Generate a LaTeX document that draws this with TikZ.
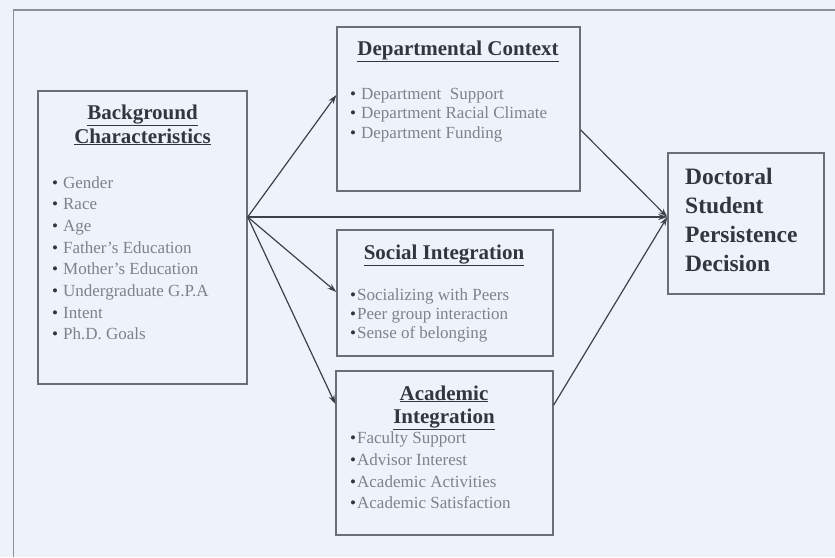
\documentclass[tikz,border=0pt]{standalone}
\usepackage{fontspec}
\setmainfont{Liberation Serif}
\usetikzlibrary{arrows.meta}
\definecolor{bgc}{HTML}{EEF2F9}
\definecolor{framec}{HTML}{8A8F98}
\definecolor{boxc}{HTML}{6A6F77}
\definecolor{titlec}{HTML}{33363D}
\definecolor{itemc}{HTML}{7E828A}
\definecolor{linec}{HTML}{3E4148}
\newcommand\bul{\textcolor{titlec}{•}\hskip 5pt}
\newcommand\bultight{\textcolor{titlec}{•}\hskip 1pt}
\begin{document}
\begin{tikzpicture}[x=1pt,y=-1pt,
 box/.style={draw=boxc, line width=1.4pt, inner sep=0pt},
 ttl/.style={anchor=base, font=\fontsize{21}{24}\selectfont\bfseries, text=titlec, inner sep=0pt},
 itm/.style={anchor=base west, font=\fontsize{17}{20}\selectfont, text=itemc, inner sep=0pt},
 doctxt/.style={anchor=base west, font=\fontsize{23.5}{29}\selectfont\bfseries, text=titlec, inner sep=0pt},
 conn/.style={draw=linec, line width=1.2pt, -{Stealth[length=9pt,width=6pt]}},
]
\fill[bgc] (0,0) rectangle (835,557);
\useasboundingbox (0,0) rectangle (835,557);
\draw[framec, line width=1.5pt] (835,10) -- (13.5,10) -- (13.5,557);

% boxes
\node[box, minimum width=209pt, minimum height=293pt] (bg) at (142.5,237.5) {};
\node[box, minimum width=243pt, minimum height=164pt] (dept) at (458.5,109) {};
\node[box, minimum width=216pt, minimum height=126pt] (soc) at (445,293) {};
\node[box, minimum width=217pt, minimum height=164pt] (acad) at (444.5,453) {};
\node[box, minimum width=156pt, minimum height=141pt] (docb) at (746,223.5) {};

% background
\node[ttl] (bgt1) at (142.5,119) {\underline{Background}};
\node[ttl] (bgt2) at (142.5,143) {\underline{Characteristics}};
\node[itm] (bg1) at (52,188) {\bul Gender};
\node[itm] (bg2) at (52,209.7) {\bul Race};
\node[itm] (bg3) at (52,231.4) {\bul Age};
\node[itm] (bg4) at (52,253.1) {\bul Father's Education};
\node[itm] (bg5) at (52,274.8) {\bul Mother's Education};
\node[itm] (bg6) at (52,296.5) {\bul Undergraduate G.P.A};
\node[itm] (bg7) at (52,318.2) {\bul Intent};
\node[itm] (bg8) at (52,339.9) {\bul Ph.D. Goals};

% departmental
\node[ttl] (dt) at (458,55) {\underline{Departmental Context}};
\node[itm] (d1) at (350,99) {\bul Department\ \ Support};
\node[itm] (d2) at (350,118.5) {\bul Department Racial Climate};
\node[itm] (d3) at (350,138) {\bul Department Funding};

% social
\node[ttl] (st) at (444,259) {\underline{Social Integration}};
\node[itm] (s1) at (350,300) {\bultight Socializing with Peers};
\node[itm] (s2) at (350,319) {\bultight Peer group interaction};
\node[itm] (s3) at (350,338) {\bultight Sense of belonging};

% academic
\node[ttl] (at1) at (444,400) {\underline{Academic}};
\node[ttl] (at2) at (444,423) {\underline{Integration}};
\node[itm] (a1) at (350,443) {\bultight Faculty Support};
\node[itm] (a2) at (350,465) {\bultight Advisor Interest};
\node[itm] (a3) at (350,487) {\bultight Academic Activities};
\node[itm] (a4) at (350,508) {\bultight Academic Satisfaction};

% doctoral
\node[doctxt] (o1) at (685,184) {Doctoral};
\node[doctxt] (o2) at (685,213) {Student};
\node[doctxt] (o3) at (685,242) {Persistence};
\node[doctxt] (o4) at (685,271) {Decision};

% connectors
\coordinate (src) at (bg.east |- 0,217);
\coordinate (dst) at (docb.west |- 0,217);
\draw[conn] (src) -- (dept.west |- 0,95);
\draw[conn] (src) -- (soc.west |- 0,292);
\draw[conn] (src) -- (acad.west |- 0,404);
\draw[conn, line width=2pt] (src) -- (dst);
\draw[conn] (dept.east |- 0,130) -- (dst);
\draw[conn] (acad.east |- 0,405) -- (dst);
\end{tikzpicture}
\end{document}
